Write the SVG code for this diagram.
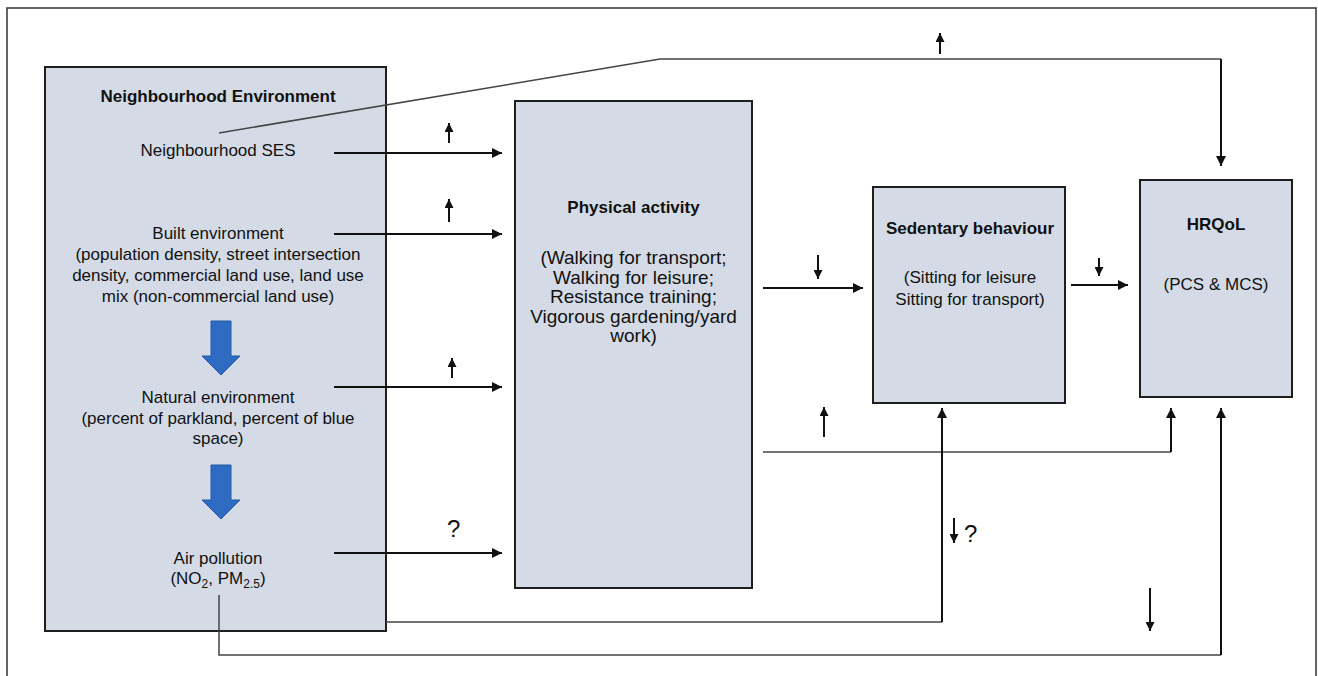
<svg xmlns="http://www.w3.org/2000/svg" width="1318" height="676" viewBox="0 0 1318 676">
<defs>
<style>
.box{fill:#d4dbe6;stroke:#1e1e1e;stroke-width:2}
.t{font-family:"Liberation Sans",Arial,sans-serif;font-size:17px;fill:#111;text-anchor:middle}
.b{font-weight:bold}
.pa{font-size:19px}
.q{font-family:"Liberation Sans",Arial,sans-serif;font-size:24px;fill:#111}
.main{fill:none;stroke:#111;stroke-width:2}
.thin{fill:none;stroke:#444;stroke-width:1.5}
.ind{fill:none;stroke:#111;stroke-width:2}
.blue{fill:#2e6cc4;stroke:#2558a6;stroke-width:1}
</style>
<marker id="ah" viewBox="0 0 10 10" refX="10" refY="5" markerWidth="10" markerHeight="10" markerUnits="userSpaceOnUse" orient="auto">
<path d="M0,0 L10,5 L0,10 Z" fill="#111"/>
</marker>
<marker id="sh" viewBox="0 0 10 10" refX="10" refY="5" markerWidth="10" markerHeight="9" markerUnits="userSpaceOnUse" orient="auto">
<path d="M0,0 L10,5 L0,10 Z" fill="#111"/>
</marker>
</defs>
<rect width="1318" height="676" fill="#fff"/>
<path d="M7,676 V8 H1316 V676" fill="none" stroke="#333" stroke-width="1.5"/>

<g id="node-neighbourhood">
<rect class="box" x="45" y="67" width="341" height="564"/>
<text class="t b" x="218" y="102">Neighbourhood Environment</text>
<text class="t" x="218" y="156">Neighbourhood SES</text>
<text class="t" x="218" y="239">Built environment</text>
<text class="t" x="218" y="260">(population density, street intersection</text>
<text class="t" x="218" y="281">density, commercial land use, land use</text>
<text class="t" x="218" y="302">mix (non-commercial land use)</text>
<path class="blue" d="M211,321 H231 V356 H240 L221,375 L202,356 H211 Z"/>
<text class="t" x="218" y="403">Natural environment</text>
<text class="t" x="218" y="424">(percent of parkland, percent of blue</text>
<text class="t" x="218" y="444">space)</text>
<path class="blue" d="M211,465 H231 V500 H240 L221,519 L202,500 H211 Z"/>
<text class="t" x="218" y="564">Air pollution</text>
<text class="t" x="218" y="584">(NO<tspan font-size="12" dy="4">2</tspan><tspan dy="-4">, PM</tspan><tspan font-size="12" dy="4">2.5</tspan><tspan dy="-4">)</tspan></text>
</g>

<g id="node-physical">
<rect class="box" x="515" y="101" width="237" height="487"/>
<text class="t b" x="633.5" y="213">Physical activity</text>
<text class="t pa" x="633.5" y="264">(Walking for transport;</text>
<text class="t pa" x="633.5" y="283.5">Walking for leisure;</text>
<text class="t pa" x="633.5" y="303">Resistance training;</text>
<text class="t pa" x="633.5" y="322.5">Vigorous gardening/yard</text>
<text class="t pa" x="633.5" y="342">work)</text>
</g>

<g id="node-sedentary">
<rect class="box" x="873" y="187" width="192" height="216"/>
<text class="t b" x="970" y="234">Sedentary behaviour</text>
<text class="t" x="970" y="283">(Sitting for leisure</text>
<text class="t" x="970" y="305">Sitting for transport)</text>
</g>

<g id="node-hrqol">
<rect class="box" x="1140" y="180" width="152" height="217"/>
<text class="t b" x="1216" y="230" font-size="16">HRQoL</text>
<text class="t" x="1216" y="290" font-size="16">(PCS &amp; MCS)</text>
</g>

<g id="connectors">
<path class="thin" d="M219,133 L660,59 H1221"/>
<path class="main" d="M1221,59 V166" marker-end="url(#ah)"/>
<path class="main" d="M334,153 H502" marker-end="url(#ah)"/>
<path class="main" d="M334,234 H502" marker-end="url(#ah)"/>
<path class="main" d="M334,387 H502" marker-end="url(#ah)"/>
<path class="main" d="M334,553 H502" marker-end="url(#ah)"/>
<path class="main" d="M763,288 H863" marker-end="url(#ah)"/>
<path class="main" d="M1071,285 H1128" marker-end="url(#ah)"/>
<path class="thin" d="M763,452 H1171"/>
<path class="main" d="M1171,452 V408" marker-end="url(#ah)"/>
<path class="thin" d="M386,622 H942"/>
<path class="main" d="M942,622 V408" marker-end="url(#ah)"/>
<path class="thin" d="M219,595 V655 H1221"/>
<path class="main" d="M1221,655 V408" marker-end="url(#ah)"/>
</g>

<g id="indicators">
<path class="ind" d="M449,143 V123" marker-end="url(#sh)"/>
<path class="ind" d="M449,222 V199" marker-end="url(#sh)"/>
<path class="ind" d="M452,378 V358" marker-end="url(#sh)"/>
<text class="q" x="447" y="537">?</text>
<path class="ind" d="M818,255 V279" marker-end="url(#sh)"/>
<path class="ind" d="M1099,258 V276" marker-end="url(#sh)"/>
<path class="ind" d="M940,54 V33" marker-end="url(#sh)"/>
<path class="ind" d="M824,437 V407" marker-end="url(#sh)"/>
<path class="ind" d="M954,518 V543" marker-end="url(#sh)"/>
<text class="q" x="964" y="542">?</text>
<path class="ind" d="M1150,588 V631" marker-end="url(#sh)"/>
</g>
</svg>
